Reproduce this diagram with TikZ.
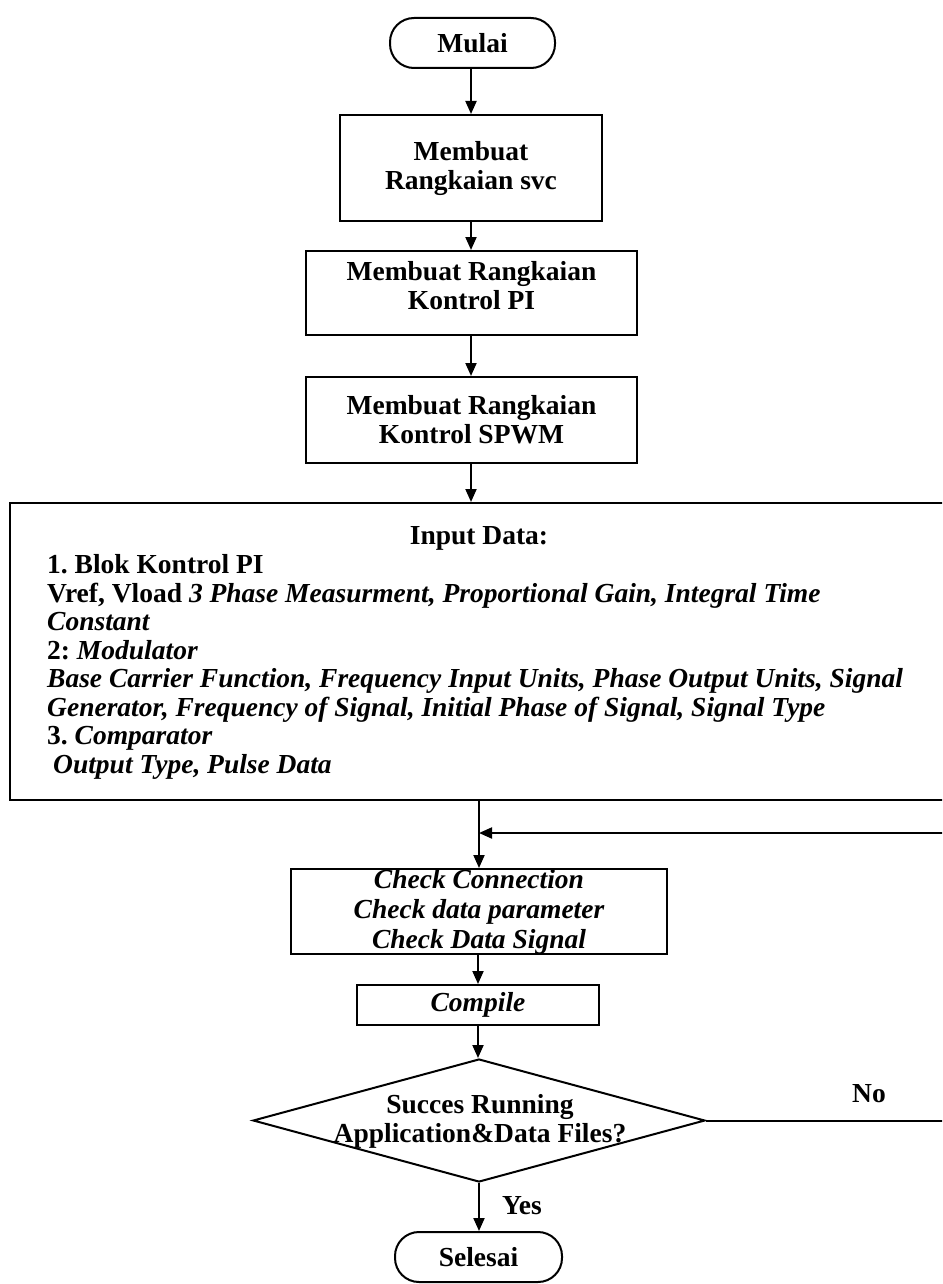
\documentclass[tikz,border=0pt]{standalone}
\usepackage{fontspec}
\setmainfont{Liberation Serif}
\usetikzlibrary{arrows.meta,shapes.geometric}
\frenchspacing
\tikzset{
  fl/.style={line width=2pt},
  arr/.style={fl,-{Triangle[length=13pt,width=11pt]}},
  boxstyle/.style={draw,fl,rectangle,inner sep=0pt,align=center},
  termstyle/.style={draw,fl,rectangle,rounded corners=24pt,inner sep=0pt},
  txt/.style={font=\fontsize{27.5}{29}\selectfont\bfseries,align=center,inner sep=0pt},
  itxt/.style={font=\fontsize{27.5}{30}\selectfont\bfseries\itshape,align=center,inner sep=0pt},
  lbl/.style={font=\fontsize{27.5}{29}\selectfont\bfseries,inner sep=0pt}
}
\begin{document}
\begin{tikzpicture}[x=1pt,y=-1pt]
\useasboundingbox (0,0) rectangle (942,1284);
\clip (0,0) rectangle (942,1284);
\fill[white] (0,0) rectangle (942,1284);

\node[termstyle,minimum width=165pt,minimum height=50pt,txt] (mulai) at (472.5,43) {Mulai};
\node[boxstyle,minimum width=262pt,minimum height=106pt,txt] (b1) at (471,168) {Membuat\\Rangkaian svc};
\node[boxstyle,minimum width=331pt,minimum height=84pt] (b2) at (471.5,293) {};
\node[txt] (b2t) at (471.5,286) {Membuat Rangkaian\\Kontrol PI};
\node[boxstyle,minimum width=331pt,minimum height=86pt,txt] (b3) at (471.5,420) {Membuat Rangkaian\\Kontrol SPWM};

\node[boxstyle,minimum width=960pt,minimum height=297pt] (inp) at (490,651.5) {};
\node[txt] (inph) at (479,538) {Input Data:};
\node[inner sep=0pt,align=left,anchor=west,font=\fontsize{27.5}{28.5}\selectfont\bfseries] (inpt) at (47,667) {%
1. Blok Kontrol PI\\
Vref, Vload \textit{3 Phase Measurment, Proportional Gain, Integral Time}\\
\textit{Constant}\\
2: \textit{Modulator}\\
\textit{Base Carrier Function, Frequency Input Units, Phase Output Units, Signal}\\
\textit{Generator, Frequency of Signal, Initial Phase of Signal, Signal Type}\\
3. \textit{Comparator}\\
\hspace*{6pt}\textit{Output Type, Pulse Data}};

\node[boxstyle,minimum width=376pt,minimum height=85pt,itxt] (chk) at (479,911.5) {Check Connection\\Check data parameter\\Check Data Signal};
\node[boxstyle,minimum width=242pt,minimum height=40pt,itxt] (comp) at (478,1005) {Compile};
\node[draw,fl,diamond,minimum width=452pt,minimum height=123pt,inner sep=0pt] (dia) at (479,1120.5) {};
\node[txt] (diat) at (480,1121) {Succes Running\\Application\&Data Files?};
\node[termstyle,minimum width=167pt,minimum height=50pt,txt] (sel) at (478.5,1257) {Selesai};

\node[lbl] (no) at (869,1094) {No};
\node[lbl] (yes) at (522,1206) {Yes};

\draw[arr] (mulai.south -| b1.north) -- (b1.north);
\draw[arr] (b1.south) -- (b2.north -| b1.south);
\draw[arr] (b2.south -| b1.south) -- (b3.north -| b1.south);
\draw[arr] (b3.south -| b1.south) -- (inp.north -| b1.south);
\draw[arr] (inp.south -| chk.north) -- (chk.north);
\draw[arr] (chk.south -| comp.north) -- (comp.north);
\draw[arr] (comp.south) -- (dia.north -| comp.south);
\draw[arr] (dia.south) -- (sel.north -| dia.south);
\coordinate (rt) at (960,1120.5);
\coordinate (rtop) at (960,833);
\draw[arr] (dia.east) -- (rt) -- (rtop) -- (rtop -| chk.north);
\end{tikzpicture}
\end{document}
